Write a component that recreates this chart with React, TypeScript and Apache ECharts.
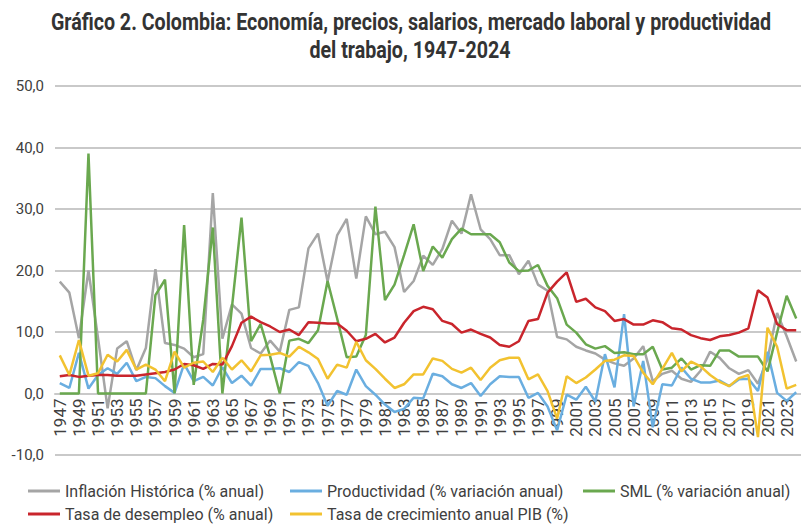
import React, { useEffect, useRef } from "react";
import * as echarts from "echarts";

const FONT = "Roboto, 'Noto Sans', sans-serif";

const years: string[] = [];
for (let y = 1947; y <= 2024; y++) years.push(String(y));

const TITLE_1 = "Gráfico 2. Colombia: Economía, precios, salarios, mercado laboral y productividad";
const TITLE_2 = "del trabajo, 1947-2024";

const NAME_INF = "Inflación Histórica (% anual)";
const NAME_PROD = "Productividad (% variación anual)";
const NAME_SML = "SML (% variación anual)";
const NAME_DES = "Tasa de desempleo (% anual)";
const NAME_PIB = "Tasa de crecimiento anual PIB (%)";

const inflacion = [
  18.2, 16.4, 9.0, 20.0, 9.0, -2.4, 7.3, 8.5, 3.8, 7.4,
  20.2, 8.2, 7.9, 7.3, 5.9, 6.4, 32.6, 8.9, 14.5, 13.0,
  7.4, 6.5, 8.6, 6.8, 13.6, 14.0, 23.6, 26.0, 18.2, 25.7,
  28.4, 18.7, 28.8, 25.9, 26.3, 23.8, 16.5, 18.3, 22.4, 20.9,
  23.5, 28.1, 26.0, 32.4, 26.7, 25.1, 22.5, 22.5, 19.4, 21.6,
  17.7, 16.7, 9.2, 8.8, 7.6, 7.0, 6.5, 5.5, 4.9, 4.5,
  5.7, 7.7, 2.0, 3.2, 3.7, 2.4, 1.9, 3.7, 6.8, 5.8,
  4.1, 3.2, 3.8, 1.6, 5.6, 13.1, 9.3, 5.2,
];

const productividad = [
  1.7, 0.9, 6.6, 0.8, 3.0, 4.1, 3.2, 5.0, 2.0, 2.7,
  2.5, 1.2, 0.1, 4.8, 2.0, 2.7, 1.3, 4.3, 1.7, 2.9,
  1.3, 4.0, 4.0, 4.1, 3.5, 5.1, 4.5, 1.7, -2.0, 0.4,
  -0.2, 3.9, 1.2, -0.2, -1.8, -3.0, -2.5, -0.7, -0.8, 3.2,
  2.8, 1.5, 0.9, 1.7, -0.4, 1.5, 2.8, 2.7, 2.7, -0.7,
  0.1, -2.1, -6.0, -0.2, -1.0, 1.1, -1.3, 6.4, 1.0, 12.9,
  -2.1, 5.3, -5.5, 1.5, 1.3, 4.2, 2.4, 1.8, 1.8, 2.1,
  1.2, 2.3, 2.4, 0.4, 6.8, 0.1, -1.2, 0.2,
];

const sml = [
  0, 0, 0, 39.0, 0, 0, 0, 0, 0, 0,
  16.0, 18.5, 0, 27.4, 1.4, 12.0, 27.0, 0, 14.0, 28.6,
  8.5, 11.3, 6.0, 0, 8.6, 8.9, 8.2, 10.3, 18.3, 12.2,
  5.9, 6.0, 9.5, 30.4, 15.2, 17.7, 22.5, 27.5, 19.9, 23.9,
  22.1, 25.1, 26.8, 25.9, 25.9, 25.9, 24.6, 21.3, 19.9, 20.0,
  20.9, 17.5, 15.5, 11.2, 9.9, 8.0, 7.3, 7.7, 6.6, 6.7,
  6.4, 6.4, 7.6, 3.9, 4.2, 5.7, 3.9, 4.6, 4.5, 7.0,
  7.0, 6.0, 6.0, 6.0, 3.6, 9.9, 15.9, 12.2,
];

const desempleo = [
  2.8, 3.0, 2.7, 2.9, 3.0, 3.0, 2.9, 2.9, 2.9, 3.1,
  3.3, 3.5, 3.9, 4.8, 4.6, 4.0, 4.8, 4.7, 7.7, 11.5,
  12.5, 11.6, 10.9, 10.0, 10.4, 9.5, 11.6, 11.5, 11.4, 11.4,
  10.2, 8.5, 8.9, 9.7, 8.3, 9.1, 11.5, 13.4, 14.1, 13.7,
  11.8, 11.3, 9.9, 10.4, 9.7, 9.1, 7.9, 7.6, 8.5, 11.8,
  12.1, 16.4, 18.2, 19.7, 14.9, 15.4, 14.0, 13.4, 11.8, 12.1,
  11.2, 11.2, 11.9, 11.6, 10.6, 10.4, 9.5, 9.0, 8.7, 9.3,
  9.5, 9.9, 10.6, 16.8, 15.6, 11.3, 10.3, 10.3,
];

const pib = [
  6.2, 3.0, 8.7, 2.9, 3.3, 6.3, 5.2, 7.1, 3.9, 4.7,
  3.9, 2.0, 6.8, 4.2, 5.0, 5.2, 3.5, 5.8, 3.9, 5.4,
  3.6, 6.2, 6.3, 6.6, 6.0, 7.6, 6.7, 5.6, 2.4, 4.7,
  4.2, 8.4, 5.4, 4.0, 2.4, 0.9, 1.5, 3.1, 3.1, 5.7,
  5.3, 4.0, 3.4, 4.2, 2.2, 4.2, 5.4, 5.8, 5.8, 2.3,
  3.1, 0.4, -4.1, 2.8, 1.7, 2.6, 3.9, 5.3, 5.5, 6.2,
  6.1, 3.4, 1.5, 4.0, 6.6, 3.6, 5.2, 4.4, 3.0, 1.9,
  1.2, 2.5, 3.0, -7.1, 10.7, 7.6, 0.8, 1.4,
];

const yTicks = { min: -10, max: 50, interval: 10 };

const COLORS = {
  inf: "#a5a5a5",
  prod: "#6aaee0",
  sml: "#6aa84f",
  des: "#c9252c",
  pib: "#f2c230",
};

const TITLE_FONT_SIZE = 23;
const TITLE_TARGET_WIDTH = 721;

function measure(text: string, font: string): number {
  const c = document.createElement("canvas");
  const ctx = c.getContext("2d");
  if (!ctx) return text.length * 10;
  ctx.font = font;
  return ctx.measureText(text).width;
}

export default function App() {
  const ref = useRef<HTMLDivElement>(null);

  useEffect(() => {
    document.body.style.margin = "0";
    if (!ref.current) return;
    const chart = echarts.init(ref.current, undefined, { renderer: "svg" });

    const w1 = measure(TITLE_1, `bold ${TITLE_FONT_SIZE}px Roboto`);
    const sx = w1 > 0 ? TITLE_TARGET_WIDTH / w1 : 0.8;

    const mkSeries = (name: string, data: number[], color: string) => ({
      name,
      type: "line",
      data,
      showSymbol: false,
      symbol: "none",
      smooth: false,
      lineStyle: { width: 2.5, color },
      itemStyle: { color },
    });

    const legendBase = {
      padding: 0,
      itemWidth: 32,
      itemHeight: 3,
      icon: "rect",
      itemGap: 5,
      textStyle: { fontFamily: FONT, fontSize: 16, color: "#404040" },
    };

    const titleStyle = {
      fontFamily: FONT,
      fontSize: TITLE_FONT_SIZE,
      fontWeight: "bold",
      fill: "#333333",
      textAlign: "center",
      textVerticalAlign: "middle",
    };

    chart.setOption({
      animation: false,
      backgroundColor: "#ffffff",
      graphic: [
        {
          type: "text",
          x: 411,
          y: 22,
          scaleX: sx,
          style: { ...titleStyle, text: TITLE_1 },
        },
        {
          type: "text",
          x: 410,
          y: 50,
          scaleX: sx,
          style: { ...titleStyle, text: TITLE_2 },
        },
      ],
      legend: [
        { ...legendBase, data: [NAME_INF], left: 28, top: 483 },
        { ...legendBase, data: [NAME_PROD], left: 290, top: 483 },
        { ...legendBase, data: [NAME_SML], left: 583, top: 483 },
        { ...legendBase, data: [NAME_DES], left: 28, top: 506 },
        { ...legendBase, data: [NAME_PIB], left: 290, top: 506 },
      ],
      grid: { left: 55, right: -5, top: 86, bottom: 70, containLabel: false },
      xAxis: {
        type: "category",
        data: years,
        boundaryGap: true,
        offset: -61.5,
        axisLine: { show: true, onZero: false, lineStyle: { color: "#c9c9c9", width: 2 } },
        axisTick: { show: false },
        axisLabel: {
          interval: 1,
          rotate: 90,
          fontFamily: FONT,
          fontSize: 17,
          color: "#404040",
          margin: 5,
        },
        splitLine: { show: false },
      },
      yAxis: {
        type: "value",
        min: yTicks.min,
        max: yTicks.max,
        interval: yTicks.interval,
        axisLine: { show: false },
        axisTick: { show: false },
        axisLabel: {
          fontFamily: FONT,
          fontSize: 15,
          color: "#404040",
          margin: 11,
          formatter: (v: number) => v.toFixed(1).replace(".", ","),
        },
        splitLine: { show: true, lineStyle: { color: "#c9c9c9", width: 2 } },
      },
      series: [
        mkSeries(NAME_INF, inflacion, COLORS.inf),
        mkSeries(NAME_PROD, productividad, COLORS.prod),
        mkSeries(NAME_SML, sml, COLORS.sml),
        mkSeries(NAME_DES, desempleo, COLORS.des),
        mkSeries(NAME_PIB, pib, COLORS.pib),
      ],
    });

    return () => chart.dispose();
  }, []);

  return <div ref={ref} style={{ width: 801, height: 525 }} />;
}
